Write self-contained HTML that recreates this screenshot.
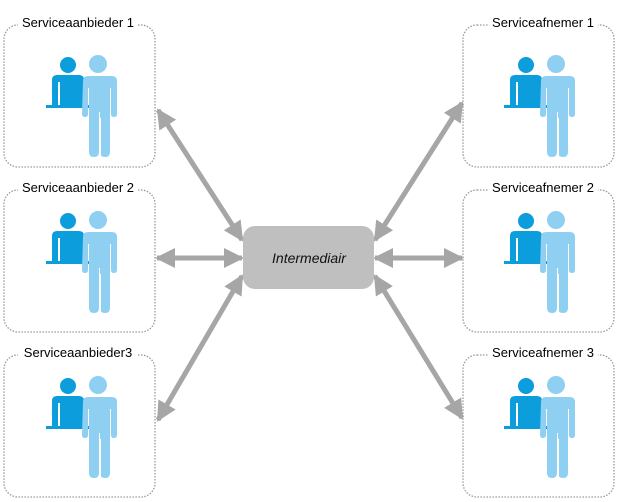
<!DOCTYPE html>
<html><head><style>body{margin:0;background:#fff}svg{display:block}text{font-family:"Liberation Sans",sans-serif}</style></head><body>
<svg width="624" height="502" viewBox="0 0 624 502" xmlns="http://www.w3.org/2000/svg">
<defs>
<g id="icon">
<circle cx="68" cy="65" r="8" fill="#0b9ddc"/>
<path d="M52,80 q0,-5 5,-5 h22 q5,0 5,5 v26 h-32 z" fill="#0b9ddc"/>
<rect x="58" y="82" width="2" height="24" fill="#fff"/>
<rect x="46" y="105" width="46" height="3" fill="#0b9ddc"/>
<circle cx="98" cy="64" r="9" fill="#8fd0f2"/>
<path d="M83,81 q0,-5 5,-5 h24 q5,0 5,5 v33 q0,3 -3,3 q-3,0 -3,-3 v-26 h-1 v64 q0,5 -5,5 q-5,0 -5,-5 v-40 h-1 v40 q0,5 -5,5 q-5,0 -5,-5 v-64 h-1 v26 q0,3 -3,3 q-3,0 -3,-3 z" fill="#8fd0f2"/>
<rect x="100" y="118" width="1" height="38" fill="#fff"/>
</g>
<marker id="ah" viewBox="0 0 10 10" refX="9" refY="5" markerWidth="4" markerHeight="4" orient="auto-start-reverse"><path d="M0,0 L10,5 L0,10 z" fill="#a6a6a6"/></marker>
</defs>
<g fill="none" stroke="#999" stroke-width="1.3" stroke-dasharray="1.5 1.5">
<rect x="4" y="25" width="151" height="142" rx="14"/>
<rect x="4" y="190" width="151" height="142" rx="14"/>
<rect x="4" y="355" width="151" height="142" rx="14"/>
<rect x="463" y="25" width="151" height="142" rx="14"/>
<rect x="463" y="190" width="151" height="142" rx="14"/>
<rect x="463" y="355" width="151" height="142" rx="14"/>
</g>
<g fill="#fff">
<rect x="18" y="14" width="120" height="18"/><rect x="18" y="179" width="120" height="18"/><rect x="18" y="344" width="120" height="18"/>
<rect x="488" y="14" width="110" height="18"/><rect x="488" y="179" width="110" height="18"/><rect x="488" y="344" width="110" height="18"/>
</g>
<g font-size="13" fill="#000" text-anchor="middle">
<text x="78" y="27">Serviceaanbieder 1</text>
<text x="78" y="192">Serviceaanbieder 2</text>
<text x="78" y="357">Serviceaanbieder3</text>
<text x="543" y="27">Serviceafnemer 1</text>
<text x="543" y="192">Serviceafnemer 2</text>
<text x="543" y="357">Serviceafnemer 3</text>
</g>
<use href="#icon"/>
<use href="#icon" y="156"/>
<use href="#icon" y="321"/>
<use href="#icon" x="458"/>
<use href="#icon" x="458" y="156"/>
<use href="#icon" x="458" y="321"/>
<g stroke="#a6a6a6" stroke-width="5" marker-start="url(#ah)" marker-end="url(#ah)">
<line x1="158" y1="110" x2="242" y2="240"/>
<line x1="157" y1="258" x2="242" y2="258"/>
<line x1="158" y1="420" x2="242" y2="276"/>
<line x1="375" y1="240" x2="462" y2="103"/>
<line x1="375" y1="258" x2="462" y2="258"/>
<line x1="375" y1="276" x2="462" y2="418"/>
</g>
<rect x="243" y="226" width="131" height="63" rx="12" fill="#bfbfbf"/>
<text x="309" y="263" font-size="14" font-style="italic" text-anchor="middle" fill="#111">Intermediair</text>
</svg>
</body></html>
